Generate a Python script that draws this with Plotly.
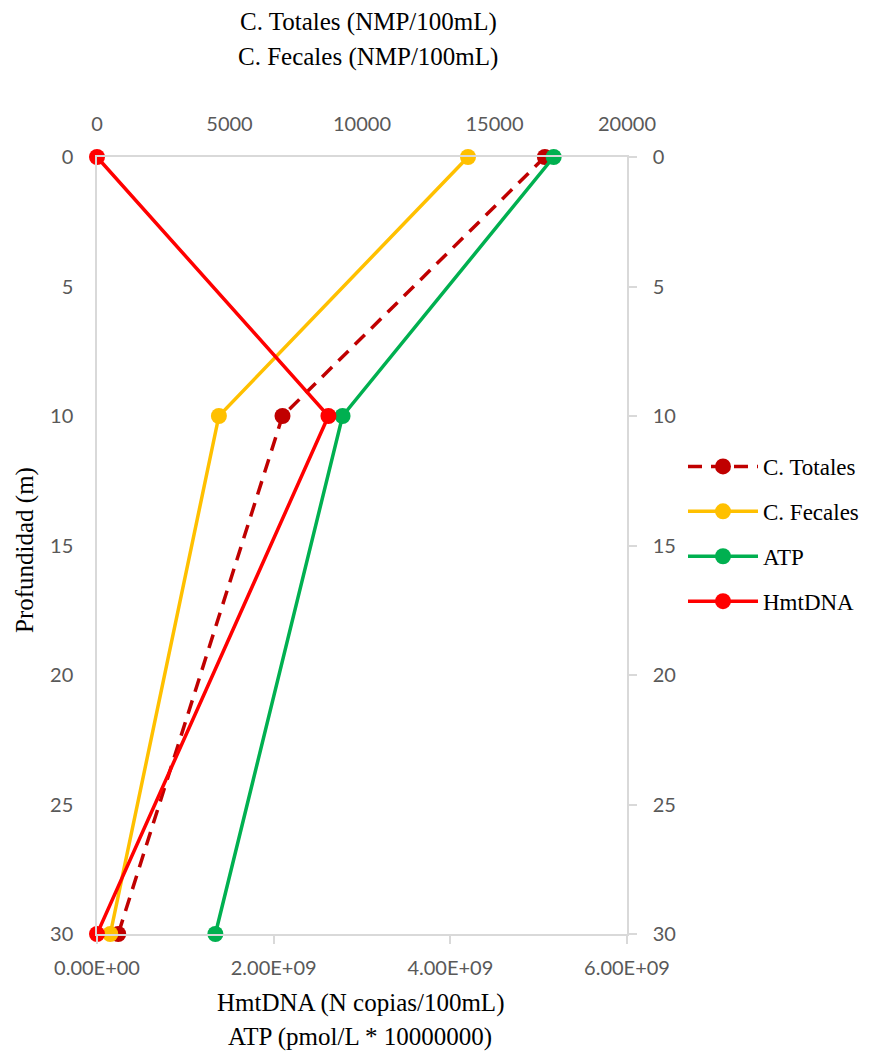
import plotly.graph_objects as go

# Depth profile (m)
profundidad = [0, 10, 30]

# Coliform counts (NMP/100mL) - top axis
c_totales = [16900, 7000, 800]
c_fecales = [14000, 4600, 500]

# ATP (pmol/L * 1e7) and HmtDNA (copies/100mL) - bottom axis
atp = [5.17e9, 2.78e9, 1.34e9]
hmtdna = [0, 2.62e9, 0]

bottom_ticks = [0, 2e9, 4e9, 6e9]
bottom_labels = ["0.00E+00", "2.00E+09", "4.00E+09", "6.00E+09"]

TICK_FONT = dict(family="Lato", size=20, color="#595959")
TITLE_FONT = dict(family="Liberation Serif", size=25, color="#000000")
LINE_GRAY = "#D9D9D9"

W, H = 882, 1057
ML, MR, MT, MB = 97, 255, 157, 123
PW, PH = W - ML - MR, H - MT - MB

fig = go.Figure()


def add_series(x, name, color, dash, xa, ya):
    fig.add_trace(go.Scatter(
        x=x, y=profundidad, name=name, legendgroup=name, mode="lines+markers",
        line=dict(color=color, width=3.5, dash=dash),
        marker=dict(color=color, size=16), cliponaxis=False,
        xaxis=xa, yaxis=ya))


add_series(c_totales, "C. Totales", "#C00000", "14px,9px", "x", "y")
add_series(c_fecales, "C. Fecales", "#FFC000", "solid", "x", "y")
add_series(atp, "ATP", "#00B050", "solid", "x2", "y2")
add_series(hmtdna, "HmtDNA", "#FF0000", "solid", "x2", "y2")

fig.update_layout(
    width=W, height=H,
    margin=dict(l=ML, r=MR, t=MT, b=MB),
    paper_bgcolor="white", plot_bgcolor="white",
    showlegend=True,
    legend=dict(x=(683 - ML) / PW, y=1 - (445 - MT) / PH,
                xanchor="left", yanchor="top", itemwidth=70,
                font=dict(family="Liberation Serif", size=23, color="#000000"),
                tracegroupgap=12, bgcolor="rgba(0,0,0,0)"),
    xaxis=dict(side="top", range=[0, 20000], dtick=5000, tickformat="d",
               showgrid=False, zeroline=False, showline=True, linecolor=LINE_GRAY,
               linewidth=1.5, ticks="", tickfont=TICK_FONT, ticklabelstandoff=16),
    xaxis2=dict(side="bottom", overlaying="x", range=[0, 6e9],
                tickvals=bottom_ticks, ticktext=bottom_labels,
                showgrid=False, zeroline=False, showline=True, linecolor=LINE_GRAY,
                linewidth=1.5, ticks="outside", ticklen=8, tickcolor=LINE_GRAY,
                tickwidth=1.5, tickfont=TICK_FONT, ticklabelstandoff=7),
    yaxis=dict(range=[30, 0], dtick=5, showgrid=False, zeroline=False,
               showline=True, linecolor=LINE_GRAY, linewidth=1.5,
               ticks="", tickfont=TICK_FONT, ticklabelstandoff=18),
    yaxis2=dict(range=[30, 0], dtick=5, overlaying="y", side="right",
                showgrid=False, zeroline=False, showline=True,
                linecolor=LINE_GRAY, linewidth=1.5, ticks="outside",
                ticklen=8, tickcolor=LINE_GRAY, tickwidth=1.5,
                tickfont=TICK_FONT, ticklabelstandoff=12),
)

annotations = [
    dict(text="C. Totales (NMP/100mL)", x=368, y=22),
    dict(text="C. Fecales (NMP/100mL)", x=368, y=57),
    dict(text="HmtDNA (N copias/100mL)", x=360, y=1003),
    dict(text="ATP (pmol/L * 10000000)", x=360, y=1037),
]
for a in annotations:
    fig.add_annotation(text=a["text"], xref="paper", yref="paper",
                       x=(a["x"] - ML) / PW, y=1 - (a["y"] - MT) / PH,
                       xanchor="center", yanchor="middle", showarrow=False,
                       font=TITLE_FONT)
fig.add_annotation(text="Profundidad (m)", xref="paper", yref="paper",
                   x=(25 - ML) / PW, y=1 - (550 - MT) / PH,
                   xanchor="center", yanchor="middle", textangle=-90,
                   showarrow=False, font=TITLE_FONT)

fig.write_html("out.html")
